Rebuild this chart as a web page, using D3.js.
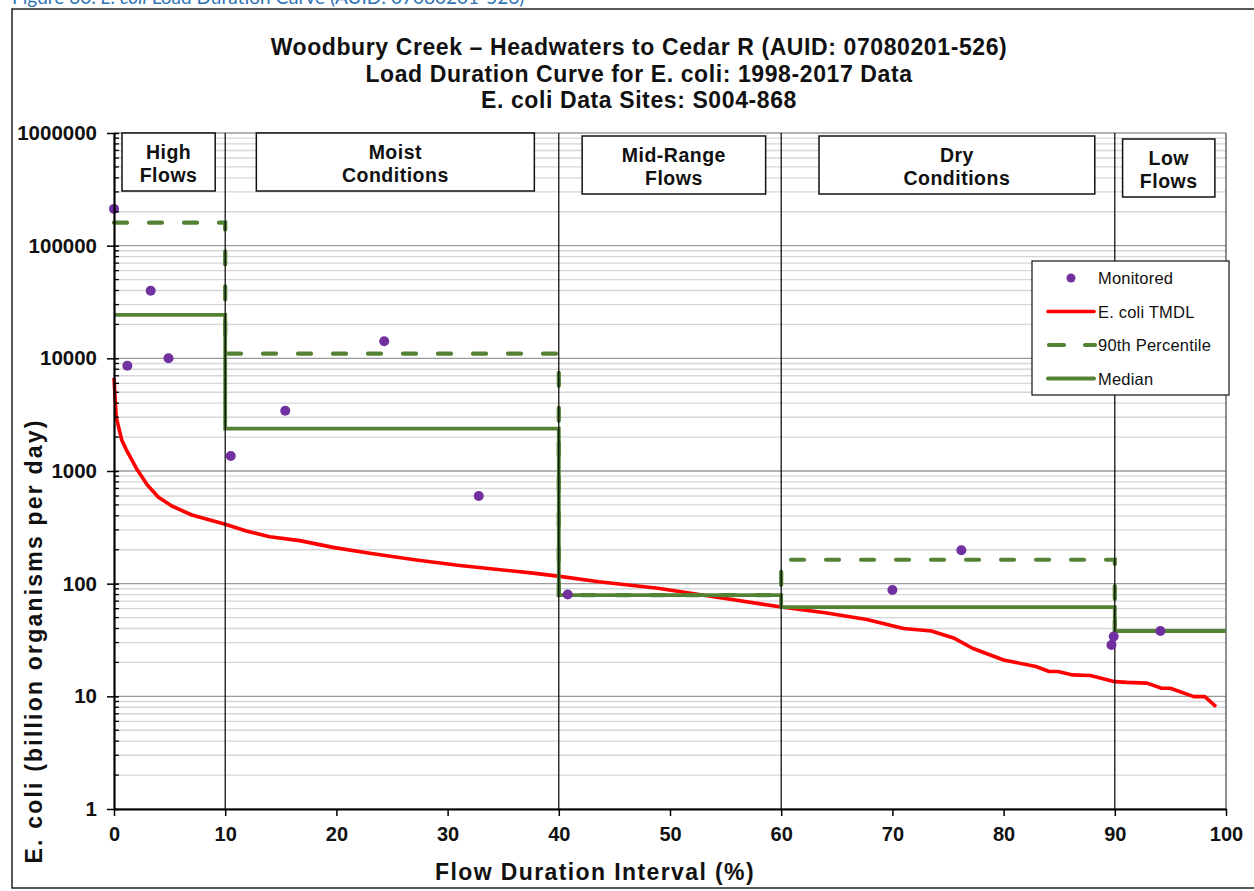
<!DOCTYPE html>
<html>
<head>
<meta charset="utf-8">
<script src="https://cdn.jsdelivr.net/npm/d3@7/dist/d3.min.js"></script>
<style>
  html, body { margin: 0; padding: 0; background: #fff; }
  svg { display: block; }
</style>
</head>
<body>
<svg id="chart" width="1254" height="891"></svg>
<script>
// ---- Data ----
// Flow regime bins (flow duration interval, %)
const regimeEdges = [0, 10, 40, 60, 90, 100];
const regimeNames = [["High", "Flows"], ["Moist", "Conditions"], ["Mid-Range", "Flows"], ["Dry", "Conditions"], ["Low", "Flows"]];

// Monitored loads (billion organisms per day)
const monitoredX = [0, 1.2, 3.3, 4.9, 10.5, 15.4, 24.3, 32.8, 40.8, 70.0, 76.2, 89.7, 89.9, 94.1];
const monitoredY = [212000, 8600, 39800, 10000, 1360, 3420, 14200, 600, 80, 88, 198, 28.5, 34, 38];

// Regime statistics of the monitored loads
const percentile90 = [160000, 11000, 79, 163, 38];
const medianLoad   = [24300, 2380, 79, 62, 38];

// E. coli TMDL load duration curve
const tmdlX = [0, 0.2, 0.7, 1.1, 2.0, 3.0, 4.0, 5.2, 7.0, 10.0, 11.9, 14.0, 16.7, 19.7, 23.0, 27.2, 31.1, 34.1, 37.7, 40.1, 43.6, 48.9, 53.8, 60.0, 64.1, 67.7, 71.0, 73.5, 75.5, 77.2, 80.0, 82.9, 84.1, 84.9, 86.2, 87.8, 90.0, 91.1, 92.9, 94.2, 95.0, 97.1, 98.1, 99.1];
const tmdlY = [6700, 3000, 1880, 1550, 1060, 750, 585, 489, 407, 337, 293, 261, 241, 210, 186, 162, 145, 135, 124, 116, 104, 91, 77, 62, 55, 48, 40, 38, 33, 26.7, 21, 18.4, 16.6, 16.6, 15.5, 15.3, 13.5, 13.3, 13.1, 11.8, 11.8, 9.95, 9.95, 8.1];

// Axis ticks
const xTicks = [0, 10, 20, 30, 40, 50, 60, 70, 80, 90, 100];
const yTicks = [1, 10, 100, 1000, 10000, 100000, 1000000];

// ---- Layout ----
const svg = d3.select("#chart");
const plot = { left: 114, right: 1226, top: 133, bottom: 809 };
const x = d3.scaleLinear().domain([0, 100]).range([plot.left, plot.right]);
const y = d3.scaleLog().domain([1, 1000000]).range([plot.bottom, plot.top]);

const GREEN = "#548235", RED = "#ff0000", PURPLE = "#7030a0";
const FONT = '"Liberation Sans", Arial, sans-serif';

// Figure caption (sits above the chart frame)
const cap = svg.append("text").attr("x", 12).attr("y", 4)
  .attr("font-family", "Lato, 'Open Sans', sans-serif").attr("font-size", 19).attr("fill", "#2e74b5");
cap.append("tspan").text("Figure 30: ");
cap.append("tspan").attr("font-style", "italic").text("E. coli");
cap.append("tspan").text(" Load Duration Curve (AUID: 07080201-526)");

// Chart frame
svg.append("rect").attr("x", 12).attr("y", 9).attr("width", 1260).attr("height", 879)
  .attr("fill", "none").attr("stroke", "#222").attr("stroke-width", 1.5);

// Title
const titleLines = ["Woodbury Creek \u2013 Headwaters to Cedar R (AUID: 07080201-526)",
                    "Load Duration Curve for E. coli: 1998-2017 Data",
                    "E. coli Data Sites: S004-868"];
svg.append("g").selectAll("text").data(titleLines).join("text")
  .attr("x", 639).attr("y", (d, i) => 55 + i * 26.5)
  .attr("text-anchor", "middle").attr("font-family", FONT)
  .attr("font-weight", "bold").attr("font-size", 23).attr("letter-spacing", 0.6).attr("fill", "#111")
  .text(d => d);

// Horizontal grid: decades darker, intermediate values lighter
const gridVals = [];
for (let d = 1; d < 1000000; d *= 10) for (let m = 1; m < 10; m++) gridVals.push({ v: d * m, major: m === 1 });
gridVals.push({ v: 1000000, major: true });
svg.append("g").selectAll("line").data(gridVals).join("line")
  .attr("x1", plot.left).attr("x2", plot.right)
  .attr("y1", d => y(d.v)).attr("y2", d => y(d.v))
  .attr("stroke", d => d.major ? "#9a9a9a" : "#d6d6d6")
  .attr("stroke-width", d => d.major ? 1.3 : 1.4);

// Right edge of the plot
svg.append("line").attr("x1", plot.right).attr("x2", plot.right)
  .attr("y1", plot.top).attr("y2", plot.bottom).attr("stroke", "#444").attr("stroke-width", 1.2);

// TMDL curve
const tmdl = tmdlX.map((v, i) => [v, tmdlY[i]]);
svg.append("path").datum(tmdl)
  .attr("d", d3.line().x(d => x(d[0])).y(d => y(d[1])))
  .attr("fill", "none").attr("stroke", RED).attr("stroke-width", 3.6)
  .attr("stroke-linejoin", "round");

// Step lines for regime statistics
function stepPoints(vals) {
  const pts = [];
  vals.forEach((v, i) => { pts.push([regimeEdges[i], v]); pts.push([regimeEdges[i + 1], v]); });
  return pts;
}
const stepLine = d3.line().x(d => x(d[0])).y(d => y(d[1]));
svg.append("path").datum(stepPoints(percentile90)).attr("d", stepLine)
  .attr("fill", "none").attr("stroke", GREEN).attr("stroke-width", 4.2)
  .attr("stroke-dasharray", "13,22").attr("stroke-linecap", "round");
svg.append("path").datum(stepPoints(medianLoad)).attr("d", stepLine)
  .attr("fill", "none").attr("stroke", GREEN).attr("stroke-width", 3.8);

// Regime boundaries
svg.append("g").selectAll("line").data(regimeEdges.slice(1, -1)).join("line")
  .attr("x1", d => x(d)).attr("x2", d => x(d))
  .attr("y1", plot.top).attr("y2", plot.bottom)
  .attr("stroke", "#000").attr("stroke-width", 1.2);

// Monitored points
svg.append("g").selectAll("circle").data(monitoredX.map((v, i) => [v, monitoredY[i]])).join("circle")
  .attr("cx", d => x(d[0])).attr("cy", d => y(d[1])).attr("r", 5)
  .attr("fill", PURPLE);

// Regime label boxes
const boxes = [
  { x0: 0.72, x1: 9.1, top: 133 },
  { x0: 12.8, x1: 37.8, top: 133 },
  { x0: 42.1, x1: 58.6, top: 136 },
  { x0: 63.4, x1: 88.2, top: 136 },
  { x0: 90.7, x1: 99.0, top: 139 }
];
const boxG = svg.append("g");
boxes.forEach((b, i) => {
  boxG.append("rect").attr("x", x(b.x0)).attr("y", b.top)
    .attr("width", x(b.x1) - x(b.x0)).attr("height", 58)
    .attr("fill", "#fff").attr("stroke", "#111").attr("stroke-width", 1.5);
  const cx = (x(b.x0) + x(b.x1)) / 2;
  regimeNames[i].forEach((t, j) => {
    boxG.append("text").attr("x", cx).attr("y", b.top + 26 + j * 23)
      .attr("text-anchor", "middle").attr("font-family", FONT)
      .attr("font-weight", "bold").attr("font-size", 19.5).attr("letter-spacing", 0.5)
      .attr("fill", "#111").text(t);
  });
});

// X axis
const xAxis = svg.append("g").attr("transform", `translate(0,${plot.bottom})`)
  .call(d3.axisBottom(x).tickValues(xTicks).tickSize(7).tickSizeOuter(0).tickPadding(11).tickFormat(d3.format("d")));
xAxis.select(".domain").attr("stroke", "#000").attr("stroke-width", 2.2);
xAxis.selectAll(".tick line").attr("stroke", "#000").attr("stroke-width", 1.5);
xAxis.selectAll(".tick text").attr("font-family", FONT).attr("font-weight", "bold")
  .attr("font-size", 20).attr("fill", "#111");

// Y axis
const yAxis = svg.append("g").attr("transform", `translate(${plot.left},0)`)
  .call(d3.axisLeft(y).tickValues(yTicks).tickSize(7).tickSizeOuter(0).tickPadding(10).tickFormat(d3.format("d")));
yAxis.select(".domain").attr("stroke", "#000").attr("stroke-width", 2.2);
yAxis.selectAll(".tick line").attr("x2", 5).attr("x1", -7).attr("stroke", "#000").attr("stroke-width", 1.5);
yAxis.selectAll(".tick text").attr("font-family", FONT).attr("font-weight", "bold")
  .attr("font-size", 20.5).attr("fill", "#111");
yAxis.append("g").selectAll("line").data(gridVals.filter(d => !d.major)).join("line")
  .attr("x1", 0).attr("x2", 5).attr("y1", d => y(d.v)).attr("y2", d => y(d.v))
  .attr("stroke", "#000").attr("stroke-width", 1.3);

// Axis titles
svg.append("text").attr("x", 595).attr("y", 880).attr("text-anchor", "middle")
  .attr("font-family", FONT).attr("font-weight", "bold").attr("font-size", 23)
  .attr("letter-spacing", 1.4).attr("fill", "#111")
  .text("Flow Duration Interval (%)");
svg.append("text").attr("transform", "translate(42,641) rotate(-90)").attr("text-anchor", "middle")
  .attr("font-family", FONT).attr("font-weight", "bold").attr("font-size", 23)
  .attr("letter-spacing", 2.2).attr("fill", "#111")
  .text("E. coli (billion organisms per day)");

// Legend
const lg = svg.append("g").attr("transform", "translate(1032,261)");
lg.append("rect").attr("width", 197).attr("height", 134).attr("fill", "#fff")
  .attr("stroke", "#111").attr("stroke-width", 1.2);
const legendItems = [
  { label: "Monitored", kind: "dot" },
  { label: "E. coli TMDL", kind: "red" },
  { label: "90th Percentile", kind: "dash" },
  { label: "Median", kind: "solid" }
];
legendItems.forEach((it, i) => {
  const cy = 17 + i * 33.5;
  if (it.kind === "dot") {
    lg.append("circle").attr("cx", 39).attr("cy", cy).attr("r", 4.5).attr("fill", PURPLE);
  } else if (it.kind === "red") {
    lg.append("line").attr("x1", 16).attr("x2", 62).attr("y1", cy).attr("y2", cy)
      .attr("stroke", RED).attr("stroke-width", 3.6).attr("stroke-linecap", "round");
  } else if (it.kind === "dash") {
    lg.append("line").attr("x1", 17).attr("x2", 63).attr("y1", cy).attr("y2", cy)
      .attr("stroke", GREEN).attr("stroke-width", 4.2).attr("stroke-linecap", "round")
      .attr("stroke-dasharray", "15,21");
  } else {
    lg.append("line").attr("x1", 16).attr("x2", 62).attr("y1", cy).attr("y2", cy)
      .attr("stroke", GREEN).attr("stroke-width", 4).attr("stroke-linecap", "round");
  }
  lg.append("text").attr("x", 66).attr("y", cy + 6).attr("font-family", FONT)
    .attr("font-size", 16.5).attr("letter-spacing", 0.2).attr("fill", "#111").text(it.label);
});
</script>
</body>
</html>
